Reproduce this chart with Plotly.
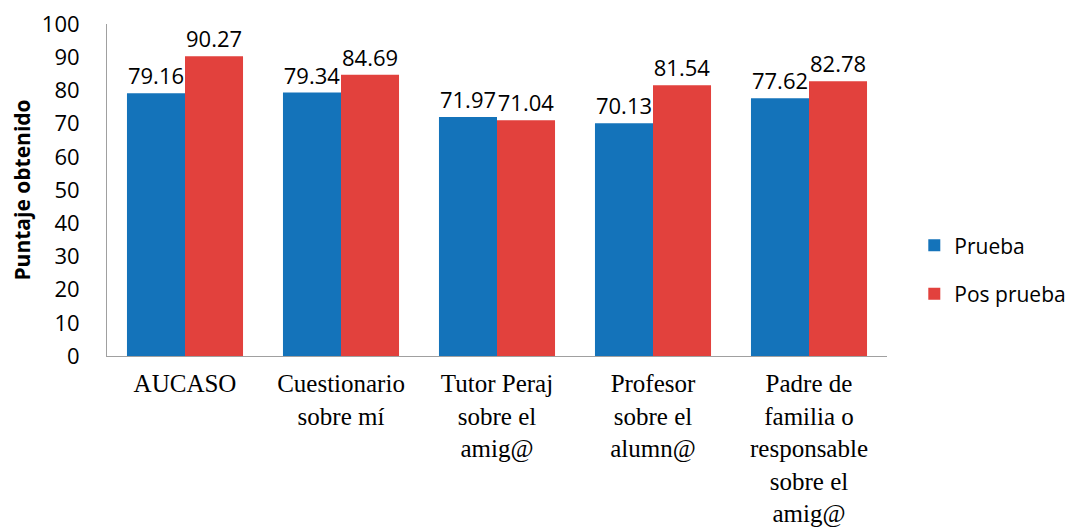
import plotly.graph_objects as go

categories = ["AUCASO", "Cuestionario<br>sobre mí", "Tutor Peraj<br>sobre el<br>amig@",
              "Profesor<br>sobre el<br>alumn@", "Padre de<br>familia o<br>responsable<br>sobre el<br>amig@"]
prueba = [79.16, 79.34, 71.97, 70.13, 77.62]
pos_prueba = [90.27, 84.69, 71.04, 81.54, 82.78]
y_ticks = [0, 10, 20, 30, 40, 50, 60, 70, 80, 90, 100]

fig = go.Figure()
fig.add_trace(go.Bar(
    x=categories, y=prueba, name="Prueba", legendgroup="a",
    marker=dict(color="#1473BA", line=dict(width=0)),
    text=[f"{v:.2f}" for v in prueba], textposition="outside",
    textfont=dict(family="Open Sans", size=22, color="#000"),
    cliponaxis=False,
))
fig.add_trace(go.Bar(
    x=categories, y=pos_prueba, name="Pos prueba", legendgroup="b",
    marker=dict(color="#E2413D", line=dict(width=0)),
    text=[f"{v:.2f}" for v in pos_prueba], textposition="outside",
    textfont=dict(family="Open Sans", size=22, color="#000"),
    cliponaxis=False,
))

# page body has an 8px default margin, so the figure is 8px smaller
fig.update_layout(
    width=1067, height=524,
    margin=dict(l=99, r=188, t=16, b=176, autoexpand=False),
    paper_bgcolor="white", plot_bgcolor="white",
    barmode="group", bargap=0.256, bargroupgap=0,
    legend=dict(x=1.035, y=0.26, xanchor="left", yanchor="middle",
                font=dict(family="Open Sans", size=21, color="#000"),
                tracegroupgap=18, bgcolor="rgba(0,0,0,0)"),
    showlegend=True,
)
fig.update_yaxes(
    range=[0, 100], tickvals=y_ticks, showgrid=False, zeroline=False,
    showline=True, linecolor="#A0A0A0", linewidth=1, ticks="",
    tickfont=dict(family="Open Sans", size=22, color="#000"),
    ticklabelstandoff=22, automargin=False, ticklabeloverflow="allow",
    title=dict(text="<b>Puntaje obtenido</b>", font=dict(family="Open Sans", size=21, color="#000"), standoff=16),
)
fig.update_xaxes(
    showgrid=False, showline=True, linecolor="#A0A0A0", linewidth=1, ticks="",
    tickfont=dict(family="Liberation Serif", size=25, color="#000"),
    ticklabelstandoff=5, automargin=False,
)

fig.write_html("out.html")
